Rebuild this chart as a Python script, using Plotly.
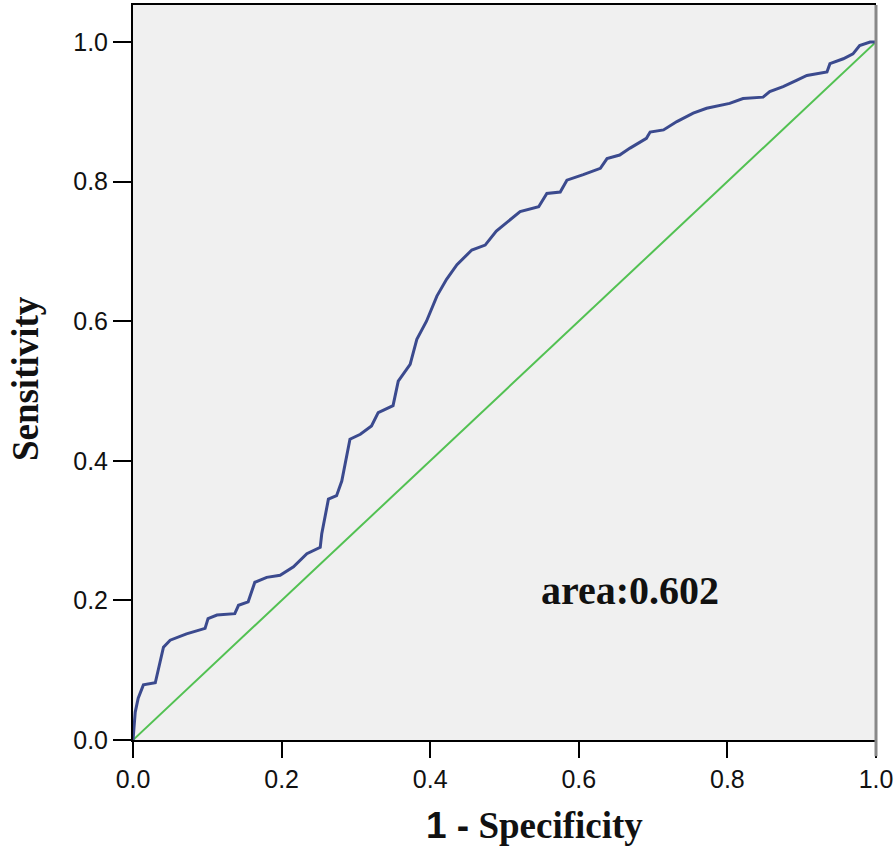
import plotly.graph_objects as go

# ROC curve points
fpr = [0.0, 0.001, 0.003, 0.007, 0.014, 0.030, 0.034, 0.041, 0.050, 0.072,
       0.097, 0.101, 0.113, 0.137, 0.142, 0.155, 0.164, 0.180, 0.198, 0.216,
       0.234, 0.252, 0.254, 0.263, 0.274, 0.281, 0.292, 0.306, 0.321, 0.330,
       0.350, 0.357, 0.373, 0.382, 0.395, 0.409, 0.422, 0.436, 0.456, 0.474,
       0.489, 0.512, 0.521, 0.546, 0.557, 0.575, 0.584, 0.606, 0.629, 0.638,
       0.655, 0.669, 0.691, 0.696, 0.714, 0.732, 0.754, 0.772, 0.803, 0.821,
       0.848, 0.857, 0.875, 0.893, 0.907, 0.934, 0.938, 0.956, 0.969, 0.978,
       0.992, 1.0]
tpr = [0.0, 0.020, 0.040, 0.060, 0.079, 0.082, 0.100, 0.133, 0.143, 0.152,
       0.160, 0.174, 0.179, 0.181, 0.193, 0.198, 0.226, 0.233, 0.236, 0.248,
       0.267, 0.276, 0.295, 0.345, 0.350, 0.371, 0.431, 0.438, 0.450, 0.469,
       0.479, 0.514, 0.538, 0.574, 0.600, 0.636, 0.660, 0.681, 0.702, 0.709,
       0.729, 0.750, 0.757, 0.764, 0.783, 0.785, 0.802, 0.810, 0.819, 0.833,
       0.838, 0.848, 0.862, 0.871, 0.874, 0.886, 0.898, 0.905, 0.912, 0.919,
       0.921, 0.929, 0.936, 0.945, 0.952, 0.957, 0.969, 0.976, 0.983, 0.995,
       1.0, 1.0]
ref_x = [0.0, 1.0]
ref_y = [0.0, 1.0]
ticks = [0.0, 0.2, 0.4, 0.6, 0.8, 1.0]
area_label = "area:0.602"

serif = "Liberation Serif, Times New Roman, serif"
sans = "Liberation Sans, Arial, sans-serif"

fig = go.Figure()
fig.add_trace(go.Scatter(x=ref_x, y=ref_y, mode="lines",
                         line=dict(color="#52c152", width=2), hoverinfo="skip"))
fig.add_trace(go.Scatter(x=fpr, y=tpr, mode="lines",
                         line=dict(color="#3b4a8e", width=3)))

fig.add_annotation(x=0.669, y=0.214, text="<b>" + area_label + "</b>",
                   showarrow=False, font=dict(family=serif, size=40, color="#111"))

# axis titles placed as annotations so they sit where the original has them
fig.add_annotation(xref="paper", yref="paper", x=0.541, y=0, yshift=-85,
                   yanchor="middle", showarrow=False,
                   text='<b><span style="font-family:Liberation Sans">1 -</span> Specificity</b>',
                   font=dict(family=serif, size=37, color="#111"))
fig.add_annotation(xref="paper", yref="paper", x=0, xshift=-108, y=0.491,
                   xanchor="center", yanchor="middle", textangle=-90, showarrow=False,
                   text="<b>Sensitivity</b>",
                   font=dict(family=serif, size=37, color="#111"))

# right frame edge is grey in the original
fig.add_shape(type="line", xref="paper", yref="paper", x0=1, x1=1, y0=-0.022, y1=1,
              line=dict(color="#888", width=3))

fig.update_layout(
    width=896, height=855,
    margin=dict(l=133, r=20, t=3, b=115),
    paper_bgcolor="white", plot_bgcolor="#f0f0f0",
    showlegend=False,
)
fig.update_xaxes(
    range=[0, 1], tickvals=ticks, ticktext=["%.1f" % t for t in ticks],
    ticks="outside", ticklen=16, tickwidth=2, tickcolor="black",
    showline=True, linecolor="black", linewidth=2, mirror=True,
    showgrid=False, zeroline=False,
    tickfont=dict(family=sans, size=25, color="#111"),
)
fig.update_yaxes(
    range=[0, 1.053], tickvals=ticks, ticktext=["%.1f" % t for t in ticks],
    ticks="outside", ticklen=18, tickwidth=2, tickcolor="black",
    showline=True, linecolor="black", linewidth=2,
    showgrid=False, zeroline=False,
    tickfont=dict(family=sans, size=25, color="#111"),
)

fig.write_html("out.html", config={"displayModeBar": False},
               post_script="document.body.style.margin='0px';")
